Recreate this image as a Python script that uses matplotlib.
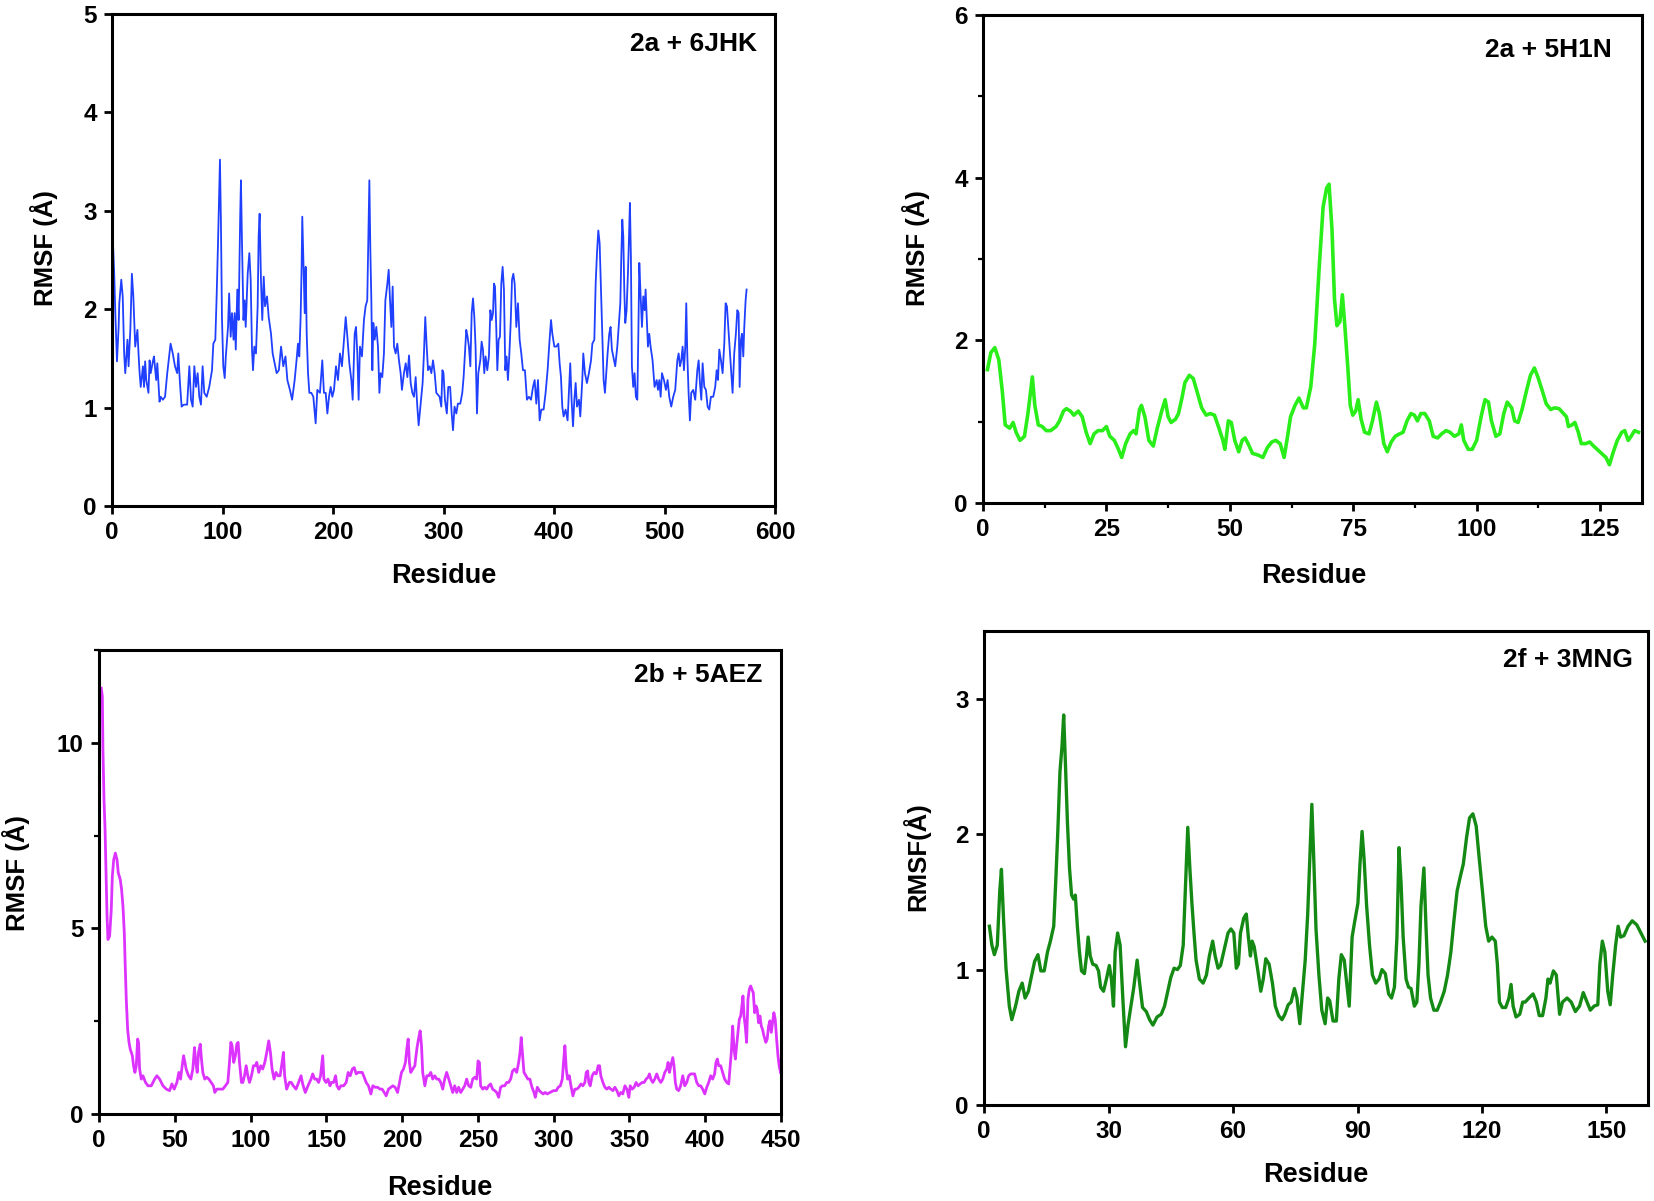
import matplotlib
matplotlib.use("Agg")
import matplotlib.pyplot as plt
from matplotlib.ticker import MultipleLocator

plt.rcParams['font.family'] = ['Liberation Sans', 'DejaVu Sans']
plt.rcParams['font.weight'] = 'bold'

# ---------------- data ----------------
# Panel A: 2a + 6JHK
a_res = [0.6,2,3,4.5,6,6.6,8.4,9.7,11,12,
         14,15,16.6,18,19.3,21,23,24,25,26,
         28,29,30,31,33,34,35,37,38,40,
         41,43,44,46,48,50,53,55,57,59,
         60,61.5,63,65,68,70,71.5,73,74.5,76,
         77.5,79,80.5,82,83.5,85.7,88,90.5,91.7,93.5,
         94.7,96,97,97.7,98.6,99.5,100.7,102,103,105,
         106,107.4,108.6,110,111,112,113.4,114.6,116,116.7,
         117.6,119,120,121,122.8,124.3,125.5,126.7,127.6,128.8,
         130.3,131.8,132.7,133.6,134.8,136,137.3,138.5,140.3,141.8,
         143.9,145.4,
         149,151,153,155,157,158.7,161,163,165.3,167,
         168.3,169.5,170.7,171.6,172.2,173.1,174.4,175.3,176.2,177.4,
         178.6,180.4,182.2,184.3,185.8,188.2,190.3,191.8,193.4,194.9,
         196.4,197.9,199.4,200.9,202.7,204.5,206.3,208.1,209.9,211.5,
         213,214.8,216.6,217.8,219.6,220.8,222,223.2,224.4,226.2,
         228,229.5,231,232,232.9,233.8,234.7,235.6,236.5,237.7,
         239.2,240.7,242,243.1,244.6,246.1,247.4,249.2,250.4,251.6,
         252.8,254,255.2,256.7,258.2,259.7,261.2,262.4,264.2,265.8,
         267.3,268.8,270.3,271.8,273.3,274.8,276.3,277.5,279.3,281.1,
         282.3,283.5,284.8,286,287.5,289,290.5,292,293.5,
         296.5,298,299,300,301.3,303,304.3,306,307.4,308.6,
         310,311.6,313,315.2,317,318.2,319.4,320.6,321.8,323,
         324.3,325.5,326.7,327.9,329,330.3,331.5,333.3,334.5,335.7,
         336.9,338.1,339.6,341.1,342.4,343.6,344.8,345.7,346.6,347.8,
         348.7,349.9,351.1,352.3,353.5,354.7,355.9,357.1,358.3,359.5,
         360.8,362,363.2,364.4,365.9,367.4,368.9,370.4,371.9,373.7,
         375.5,377.3,379.2,381,382.5,384,385.5,387,388.5,390.6,
         392.4,394.2,396,397.3,398.5,400.3,402.1,403.9,405.1,406.3,
         407.5,408.7,410.5,412.3,413.5,414.7,415.9,417.2,418.4,419.6,
         420.8,422.6,423.8,425.6,426.5,428,429.8,431.6,433.5,434.7,
         436.5,437.7,438.9,440.1,441.3,442.5,443.7,444.9,446.1,
         448.5,450,451.2,452.4,453.6,455.4,457.3,458.5,460,460.9,
         461.8,462.7,463.6,464.5,465.7,466.9,467.8,468.7,469.6,470.5,
         471.7,472.9,474.1,475.4,476.3,477.2,478.4,479.6,480.8,482,
         482.9,483.8,485,486.2,487.4,489.2,491,492.9,494.1,495.3,
         496.5,497.7,499.5,501.3,502.8,504.3,506.1,507.9,509.7,511.6,
         512.8,514,515.2,516.4,517.6,518.8,519.7,520.6,521.8,523,
         524.2,526,527.8,529.7,530.9,532.1,533.3,534.5,536,537.5,
         539,540.5,542,544.1,545.9,547.2,548.4,549.6,551.1,552.6,
         554.1,555.3,556.5,557.7,559.2,560.4,561.6,563.1,564.6,565.9,
         567.1,568,569.2,570.1,571.3,572.2,573.4,574.3]
a_rmsf = [2.75,2.36,1.96,1.47,1.82,2.06,2.30,2.13,1.55,1.35,
          1.69,1.42,1.79,2.36,2.13,1.62,1.79,1.55,1.35,1.21,
          1.42,1.21,1.47,1.28,1.15,1.48,1.35,1.47,1.52,1.28,
          1.45,1.06,1.11,1.08,1.11,1.35,1.65,1.55,1.42,1.35,
          1.55,1.25,1.01,1.03,1.03,1.42,1.08,1.01,1.42,1.21,
          1.35,1.11,1.03,1.42,1.15,1.11,1.21,1.38,1.65,1.69,
          2.13,2.70,3.21,3.52,2.87,1.92,1.42,1.30,1.52,1.82,
          2.16,1.72,1.96,1.69,1.96,1.59,2.20,1.89,2.94,3.31,
          2.70,1.89,2.09,1.82,2.36,2.57,2.30,1.59,1.38,1.62,
          1.55,2.03,2.74,2.97,2.30,1.89,2.33,2.03,2.13,1.92,
          1.75,1.55,
          1.35,1.38,1.62,1.42,1.52,1.28,1.18,1.08,1.28,1.48,
          1.65,1.52,1.92,2.43,2.94,2.53,1.96,2.43,1.75,1.35,
          1.15,1.15,1.11,0.84,1.18,1.15,1.48,1.15,1.15,0.94,
          1.11,1.21,1.11,1.18,1.42,1.28,1.55,1.42,1.69,1.92,
          1.72,1.45,1.28,1.08,1.75,1.82,1.55,1.08,1.62,1.52,
          1.89,2.03,2.09,2.70,3.31,2.60,2.09,1.38,1.86,1.69,
          1.82,1.62,1.15,1.35,1.31,1.55,2.09,2.26,2.40,2.09,
          1.82,2.23,1.62,1.55,1.65,1.48,1.35,1.18,1.35,1.45,
          1.31,1.53,1.25,1.15,1.11,1.31,1.01,0.82,1.04,1.25,
          1.55,1.92,1.62,1.38,1.42,1.35,1.48,1.35,1.15,
          1.11,1.01,1.38,1.35,1.08,0.94,1.21,1.21,0.94,0.77,
          1.01,0.94,1.04,1.04,1.15,1.31,1.55,1.79,1.72,1.62,
          1.42,1.96,2.11,1.92,1.62,0.94,1.35,1.48,1.67,1.59,
          1.35,1.52,1.38,1.52,1.99,1.89,1.96,2.26,2.23,1.79,
          1.38,1.69,1.72,2.26,2.43,2.20,1.38,1.52,1.28,1.52,
          1.86,2.30,2.36,2.26,1.82,2.06,1.69,1.55,1.38,1.38,
          1.08,1.11,1.08,1.21,1.28,1.04,1.28,0.87,0.98,0.98,
          1.15,1.38,1.69,1.89,1.75,1.62,1.62,1.65,1.45,1.31,
          1.01,0.91,0.98,0.87,1.15,1.45,1.08,0.81,1.08,1.25,
          1.01,1.08,0.91,1.28,1.55,1.35,1.25,1.35,1.48,1.65,
          1.69,2.26,2.57,2.80,2.67,2.20,1.75,1.28,1.15,
          1.55,1.75,1.82,1.59,1.52,1.42,1.62,1.81,2.06,2.53,
          2.91,2.74,2.20,1.86,1.99,2.36,2.70,3.08,2.53,1.42,
          1.21,1.35,1.11,1.08,1.72,2.47,2.13,1.82,2.13,1.99,
          2.20,1.96,1.62,1.75,1.62,1.48,1.21,1.28,1.18,1.28,
          1.11,1.35,1.28,1.18,1.28,1.11,1.01,1.11,1.18,1.48,
          1.55,1.42,1.48,1.62,1.38,1.62,2.06,1.55,1.15,0.87,
          1.15,1.18,1.08,1.38,1.48,1.25,1.08,1.45,1.21,1.18,
          1.01,0.98,1.11,1.11,1.21,1.38,1.28,1.59,1.48,1.35,
          1.65,2.06,2.03,1.82,1.55,1.35,1.15,1.55,1.75,1.99,
          1.96,1.21,1.69,1.75,1.52,1.82,2.09,2.20]

# Panel B: 2a + 5H1N
b_res = [0.9,1.6,2.4,3.2,3.9,4.5,5.4,6.1,6.7,7.5,
         8.4,9.1,10,10.5,11.2,12,12.8,13.7,14.8,15.5,
         16.3,16.9,17.7,18.4,19.3,20.1,20.9,21.7,22.5,23.3,
         24.2,25,25.7,26.6,27.3,28.1,28.9,29.8,30.5,31,
         31.7,32.1,32.8,33.6,34.5,35.3,36.2,36.9,37.5,38.1,
         39,39.6,40.3,40.9,41.8,42.6,43.5,44.3,45.2,46,
         46.9,47.8,48.6,49,49.7,50.3,51,51.8,52.5,53.1,
         53.7,54.6,55.7,56.7,57.6,58.5,59.3,60.2,61,61.7,
         62.3,63.2,64,64.9,65.5,66.4,67.2,68.1,68.9,69.6,
         70.1,70.7,71.2,71.7,72.3,72.8,73.3,73.9,74.4,74.9,
         75.5,76,76.6,77.3,78.2,78.9,79.7,80.3,81.2,81.9,
         82.7,83.5,84.4,85.1,85.9,86.7,87.4,88,88.7,89.5,
         90.4,91.2,92.1,92.9,93.8,94.6,95.5,96.4,96.9,97.4,
         98.3,99.1,100,100.9,101.7,102.4,103,103.9,104.7,105.5,
         106.2,107.1,107.7,108.4,109.2,110.1,110.9,111.7,112.4,113.3,
         114.1,115,115.8,116.7,117.6,118.2,118.6,119.3,119.9,120.6,
         121.2,122.1,122.9,123.7,124.4,125.3,126.2,126.9,127.7,128.5,
         129.4,130,130.7,131.3,132,132.8]
b_rmsf = [1.64,1.85,1.91,1.76,1.38,0.96,0.92,0.99,0.87,0.77,
          0.82,1.10,1.55,1.20,0.96,0.94,0.89,0.89,0.94,1.01,
          1.13,1.16,1.13,1.08,1.13,1.06,0.87,0.73,0.85,0.89,
          0.89,0.94,0.82,0.77,0.68,0.56,0.73,0.85,0.89,0.85,
          1.15,1.20,1.06,0.77,0.70,0.92,1.13,1.27,1.06,0.99,
          1.03,1.10,1.29,1.48,1.57,1.53,1.34,1.17,1.08,1.10,
          1.08,0.92,0.77,0.66,1.01,0.99,0.77,0.63,0.77,0.80,
          0.73,0.61,0.59,0.56,0.68,0.75,0.77,0.73,0.56,0.82,
          1.06,1.20,1.29,1.17,1.17,1.43,1.95,2.89,3.64,3.87,
          3.92,3.36,2.51,2.18,2.23,2.56,2.18,1.67,1.20,1.08,
          1.13,1.27,1.03,0.87,0.85,1.01,1.24,1.10,0.73,0.63,
          0.75,0.82,0.85,0.87,1.01,1.10,1.08,1.01,1.10,1.10,
          1.01,0.82,0.80,0.85,0.89,0.87,0.82,0.85,0.96,0.77,
          0.66,0.66,0.77,1.06,1.27,1.24,1.01,0.82,0.85,1.10,
          1.24,1.17,1.01,0.99,1.15,1.38,1.57,1.66,1.55,1.38,
          1.22,1.15,1.17,1.16,1.10,1.06,0.94,0.96,0.99,0.87,
          0.73,0.73,0.75,0.70,0.66,0.61,0.56,0.47,0.63,0.77,
          0.87,0.89,0.77,0.82,0.89,0.87]

# Panel C: 2b + 5AEZ
c_res = [1.5,2.2,2.6,3.3,4,4.4,4.8,5.3,5.9,7,
         8.1,8.8,9.7,10.8,11.9,12.7,14,14.9,15.8,16.7,
         17.3,18,18.9,19.8,20.6,22,22.8,23.7,24.6,25.5,
         26.1,26.8,27.9,29,30.7,32.3,34.5,36.7,38.2,40,
         42.2,44.4,46.6,48.1,49.6,51.4,52.7,53.8,54.9,55.8,
         56.7,57.5,59.1,60.6,61.9,63,63.9,64.8,65.7,66.8,
         67.6,68.5,69.8,71.1,72.5,74,75.5,76.4,77.7,79.5,
         81.7,83.4,85,86.1,87,87.8,88.9,90,90.9,91.8,
         92.7,94,94.9,96,97.1,98.2,99.3,100.6,101.9,103.2,
         104.1,105.4,106.7,108,109.4,110.7,112,113.1,114.2,115.5,
         116.8,118.1,119.5,120.8,121.7,122.5,123.8,125.6,126.9,128.2,
         130,131.7,133.3,134.4,136.1,137.9,139.9,141,142.3,143.6,
         144.9,146.2,147.6,148.4,149.8,151.1,152.4,153.3,
         154.8,156.1,157,158.3,159.6,161.4,163.1,164.4,165.8,167.1,
         168.4,169.7,171,172.4,173.7,175,176.3,177.8,179.4,180.7,
         182.2,183.8,185.5,186.8,188.2,189.5,191,192.6,193.9,195.4,
         197,198.3,199.6,200.9,202.2,203.1,204,204.8,205.7,207,
         208.4,209.7,210.8,211.9,212.8,213.6,215,216.3,217.6,218.9,
         220.2,221.5,222.9,224.2,225.5,226.8,228.1,229.4,230.8,232.1,
         233.4,234.7,236,237.3,238.7,240,241.3,242.6,243.9,245.3,
         246.6,247.9,249.2,250.1,251,251.8,253.2,254.5,255.8,257.1,
         258.4,259.7,261.1,262.4,263.7,265,266.3,267.7,269,270.3,
         271.6,272.9,274.2,275.6,276.9,277.8,278.6,279.5,280.4,281.7,
         283,284.3,285.7,287,287.9,289.2,290.5,291.8,293.1,294.4,
         295.8,297.5,
         300,301.7,303,304.4,305.7,306.5,307.4,308.3,309.2,310.3,
         311.4,312.7,314,315.3,316.6,318,319.3,320.6,321.5,322.4,
         323.2,324.1,325.4,326.7,328.1,329.4,330.3,331.1,332.5,333.8,
         335.1,336.4,337.7,339.1,340.4,341.7,343,344.3,345.6,347,
         348.3,349.6,350.5,351.8,353.1,354.4,355.7,357.1,358.4,359.7,
         361,362.3,363.2,364.1,365.4,366.7,368,369.3,370.7,372,
         373.3,374.6,375.5,376.4,377.3,378.6,379.4,380.3,381.2,382.5,
         383.8,385.2,386.5,387.8,389.1,390.4,391.7,393,394.4,395.7,
         397,398.3,399.7,401,402.3,403.6,404.9,406.2,407.1,408,
         408.9,410.2,411.5,412.8,414.2,415.5,416.3,417.2,418.1,419,
         419.9,420.7,421.6,422.5,423.4,424.2,424.9,425.6,426.4,427.3,
         428.2,429.1,430,430.8,431.7,432.6,433.5,434.3,435.2,436.1,
         437,437.8,438.7,440,440.9,441.8,442.7,443.6,444.4,445.3,
         446.2,447.1,448,448.8,449.7]
c_rmsf = [11.47,11.25,9.81,8.47,7.66,6.94,6.23,5.33,4.70,4.79,
          5.51,6.41,6.85,7.03,6.85,6.50,6.32,6.05,5.60,4.88,
          3.99,3.09,2.28,1.93,1.75,1.57,1.30,1.12,1.30,2.02,
          1.93,1.21,0.94,1.03,0.85,0.76,0.76,0.94,1.03,0.94,
          0.76,0.67,0.63,0.81,0.67,0.85,1.12,0.94,1.30,1.57,
          1.39,1.21,1.03,0.94,1.21,1.79,1.39,1.12,1.66,1.88,
          1.48,1.12,0.94,0.99,0.94,0.85,0.76,0.58,0.67,0.67,
          0.67,0.76,0.85,1.39,1.93,1.84,1.39,1.57,1.88,1.93,
          1.39,0.85,0.85,1.03,1.30,1.03,0.85,1.03,1.30,1.30,
          1.39,1.12,1.30,1.21,1.39,1.66,1.97,1.66,1.21,0.94,
          1.12,1.03,1.03,1.39,1.66,1.03,0.67,0.85,0.85,0.76,
          0.67,0.85,1.03,0.81,0.58,0.76,0.94,1.08,0.94,0.94,
          0.85,1.03,1.57,0.94,0.85,0.94,0.76,0.85,
          0.85,1.03,0.76,0.67,0.76,0.76,0.85,1.12,1.03,1.21,
          1.25,1.08,1.12,1.12,1.12,0.99,0.85,0.76,0.54,0.76,
          0.72,0.72,0.67,0.67,0.58,0.49,0.67,0.72,0.76,0.72,
          0.58,0.85,1.12,1.21,1.39,1.75,2.02,1.39,1.12,1.21,
          1.30,1.75,2.02,2.24,1.84,1.12,0.76,1.03,1.03,1.12,
          0.94,1.03,0.94,0.94,0.85,0.67,0.94,1.12,0.94,0.76,
          0.58,0.76,0.58,0.72,0.58,0.67,0.76,0.94,0.76,0.72,
          0.94,0.99,0.94,1.43,1.39,0.76,0.67,0.72,0.67,0.76,
          0.81,0.67,0.63,0.58,0.45,0.72,0.76,0.76,0.85,0.85,
          0.94,1.16,1.21,1.12,1.39,1.66,2.06,1.57,1.12,1.03,
          0.94,0.94,0.72,0.58,0.45,0.72,0.63,0.58,0.54,0.58,
          0.54,0.58,
          0.63,0.63,0.72,0.76,0.94,1.39,1.84,1.21,0.94,1.03,
          0.76,0.49,0.67,0.67,0.72,0.81,0.76,0.85,1.12,1.16,
          0.85,0.76,1.03,1.12,1.08,1.30,1.30,1.03,0.85,0.72,
          0.67,0.72,0.67,0.63,0.72,0.63,0.49,0.58,0.54,0.76,
          0.67,0.45,0.76,0.67,0.72,0.85,0.76,0.81,0.85,0.85,
          0.94,0.99,1.08,0.94,0.85,0.94,1.08,0.94,0.85,0.94,
          1.12,1.21,1.39,1.12,1.30,1.52,1.30,0.85,0.67,0.63,
          0.76,1.03,0.76,0.85,1.03,1.08,1.08,1.08,0.85,0.76,
          0.76,0.67,0.54,0.72,0.85,1.03,0.94,1.08,1.39,1.48,
          1.30,1.30,1.12,0.94,0.85,0.81,1.21,1.66,2.37,1.75,
          1.48,1.84,2.20,2.55,2.64,2.91,3.18,2.64,2.37,1.93,
          3.09,3.36,3.45,3.36,3.27,2.73,2.91,2.82,2.46,2.64,
          2.37,2.28,2.11,1.93,2.02,2.37,2.51,2.20,2.46,2.73,
          2.55,2.02,1.57,1.30,1.12]

# Panel D: 2f + 3MNG
d_res = [1.3,1.9,2.5,3.2,3.8,4.2,4.7,5.3,6.1,6.7,
         7.6,8.4,9.2,9.9,10.7,11.5,12.2,13,13.7,14.5,
         15.3,16,16.8,17.3,17.8,18.3,18.8,19.2,19.6,20.1,
         20.6,21.1,21.6,22,22.5,23,23.5,24.2,24.7,25.1,
         25.6,26.2,27,27.6,28.1,28.8,29.5,30.2,30.7,31.2,
         31.6,32.2,32.8,33.5,34.1,34.7,35.4,36.1,36.9,37.5,
         38.2,39.1,39.9,40.7,41.7,42.7,43.5,44.3,45,45.8,
         46.6,47.3,48,48.6,49.1,49.6,50.1,50.6,51.1,51.9,
         52.8,53.6,54.3,55.1,55.7,56.4,57,57.9,58.8,59.5,
         60.2,60.8,61.3,61.8,62.6,63.2,63.7,64.2,64.6,65.1,
         65.9,66.7,67.3,67.9,68.7,69.5,70.2,71,71.8,72.5,
         73.3,74,74.8,75.4,76.1,76.7,77.4,78,78.5,79,
         79.5,80,80.7,81.4,82.2,82.8,83.3,84.1,84.9,85.5,
         86.1,86.8,87.4,88,88.7,89.3,90.1,90.6,91.1,91.6,
         92.2,92.9,93.6,94.4,95.2,95.9,96.7,97.5,98.2,98.9,
         99.5,100,100.5,101,101.7,102.3,102.9,103.7,104.3,104.8,
         105.3,106,106.5,107,107.6,108.4,109.2,110,110.9,111.7,
         112.5,113.2,114,114.8,115.5,116.3,117,117.8,118.6,119.3,
         120.1,120.9,121.6,122.4,123.2,123.7,124.2,124.9,125.7,126.5,
         127,127.5,128.2,129.1,129.8,130.4,131.3,132.3,133.1,133.8,
         134.6,135.4,135.9,136.4,137.2,137.9,138.7,139.4,140.5,141.5,
         142.5,143.5,144.4,145.3,146.1,147,147.9,148.4,149,149.6,
         150.3,150.9,151.5,152.2,152.8,153.4,154.2,155.2,156.2,157.3,
         158.3,159.3]
d_rmsf = [1.32,1.18,1.11,1.18,1.58,1.74,1.38,1.01,0.73,0.63,
          0.73,0.84,0.90,0.79,0.84,0.96,1.06,1.11,0.99,0.99,
          1.13,1.21,1.32,1.66,2.03,2.46,2.65,2.88,2.54,2.09,
          1.75,1.55,1.52,1.55,1.32,1.13,0.99,0.97,1.10,1.24,
          1.10,1.04,1.03,0.99,0.87,0.84,0.93,1.03,0.93,0.73,
          1.13,1.27,1.18,0.76,0.43,0.59,0.73,0.87,1.07,0.90,
          0.72,0.69,0.63,0.59,0.65,0.67,0.73,0.84,0.94,1.01,
          1.00,1.03,1.18,1.66,2.05,1.75,1.49,1.27,1.07,0.93,
          0.90,0.96,1.10,1.21,1.10,1.01,1.03,1.15,1.27,1.30,
          1.27,1.01,1.04,1.27,1.38,1.41,1.24,1.10,1.21,1.17,
          1.01,0.84,0.93,1.08,1.04,0.90,0.73,0.66,0.63,0.67,
          0.74,0.76,0.86,0.79,0.60,0.82,1.07,1.41,1.81,2.22,
          1.78,1.30,0.96,0.70,0.60,0.79,0.77,0.62,0.62,0.93,
          1.11,1.07,0.90,0.73,1.24,1.35,1.49,1.78,2.02,1.81,
          1.47,1.18,0.96,0.90,0.93,1.00,0.97,0.82,0.79,0.87,
          1.24,1.90,1.64,1.24,0.93,0.87,0.86,0.73,0.76,1.04,
          1.47,1.75,1.32,0.96,0.79,0.70,0.70,0.76,0.84,0.96,
          1.13,1.35,1.58,1.69,1.78,1.98,2.12,2.15,2.06,1.83,
          1.58,1.32,1.21,1.24,1.21,1.04,0.76,0.72,0.72,0.79,
          0.89,0.73,0.65,0.67,0.76,0.76,0.79,0.82,0.76,0.66,
          0.66,0.79,0.93,0.90,0.99,0.96,0.67,0.76,0.79,0.76,
          0.69,0.73,0.83,0.76,0.70,0.73,0.74,1.04,1.21,1.13,
          0.84,0.74,0.96,1.18,1.32,1.24,1.25,1.32,1.36,1.33,
          1.27,1.21]

assert len(a_res) == len(a_rmsf), (len(a_res), len(a_rmsf))
assert len(b_res) == len(b_rmsf), (len(b_res), len(b_rmsf))
assert len(c_res) == len(c_rmsf), (len(c_res), len(c_rmsf))
assert len(d_res) == len(d_rmsf), (len(d_res), len(d_rmsf))

titles = ["2a + 6JHK", "2a + 5H1N", "2b + 5AEZ", "2f + 3MNG"]
ylabels = ["RMSF (Å)", "RMSF (Å)", "RMSF (Å)", "RMSF(Å)"]
xticks_list = [[0, 100, 200, 300, 400, 500, 600],
               [0, 25, 50, 75, 100, 125],
               [0, 50, 100, 150, 200, 250, 300, 350, 400, 450],
               [0, 30, 60, 90, 120, 150]]
yticks_list = [[0, 1, 2, 3, 4, 5], [0, 2, 4, 6], [0, 5, 10], [0, 1, 2, 3]]

# ---------------- figure ----------------
W, H = 1654, 1201
fig = plt.figure(figsize=(W / 100, H / 100), dpi=100)

def box(l, t, r, b):
    return [l / W, 1 - b / H, (r - l) / W, (b - t) / H]

def fpos(x, y):
    return x / W, 1 - y / H

panels = [
    dict(res=a_res, val=a_rmsf, rect=box(112, 14, 775, 506), xlim=(0, 600), ylim=(0, 5),
         color="#2040ff", lw=1.3, minor=None,
         title_xy=(757, 44), xl_xy=(444, 576), yl_xy=(44, 248)),
    dict(res=b_res, val=b_rmsf, rect=box(983, 15, 1642, 503), xlim=(0, 133.5), ylim=(0, 6),
         color="#2aee1a", lw=2.6, minor=(12.5, 1),
         title_xy=(1612, 50), xl_xy=(1314, 576), yl_xy=(916, 248)),
    dict(res=c_res, val=c_rmsf, rect=box(99, 650, 781, 1114), xlim=(0, 450), ylim=(0, 12.5),
         color="#dd33ff", lw=2.0, minor=(None, 2.5),
         title_xy=(762, 675), xl_xy=(440, 1188), yl_xy=(16, 873)),
    dict(res=d_res, val=d_rmsf, rect=box(984, 631, 1648, 1105), xlim=(0, 160), ylim=(0, 3.5),
         color="#148a14", lw=2.4, minor=None,
         title_xy=(1633, 660), xl_xy=(1316, 1175), yl_xy=(916, 857)),
]

for i, p in enumerate(panels):
    ax = fig.add_axes(p["rect"])
    ax.plot(p["res"], p["val"], color=p["color"], lw=p["lw"], solid_joinstyle="round")
    ax.set_xlim(*p["xlim"])
    ax.set_ylim(*p["ylim"])
    ax.set_xticks(xticks_list[i])
    ax.set_yticks(yticks_list[i])
    if p["minor"] is not None:
        mx, my = p["minor"]
        if mx:
            ax.xaxis.set_minor_locator(MultipleLocator(mx))
        if my:
            ax.yaxis.set_minor_locator(MultipleLocator(my))
    for s in ax.spines.values():
        s.set_linewidth(2.2)
        s.set_color("black")
    ax.tick_params(which="major", direction="out", length=6, width=2.0,
                   labelsize=17.5, pad=5)
    ax.tick_params(which="minor", direction="out", length=3.5, width=1.6)
    for lab in ax.get_xticklabels() + ax.get_yticklabels():
        lab.set_fontweight("bold")
    x, y = fpos(*p["title_xy"])
    fig.text(x, y, titles[i], ha="right", va="center", fontsize=19, fontweight="bold")
    x, y = fpos(*p["xl_xy"])
    fig.text(x, y, "Residue", ha="center", va="center", fontsize=19.5, fontweight="bold")
    x, y = fpos(*p["yl_xy"])
    fig.text(x, y, ylabels[i], ha="center", va="center", rotation=90, fontsize=18.5,
             fontweight="bold")

fig.savefig("out.png", dpi=100, facecolor="white")
